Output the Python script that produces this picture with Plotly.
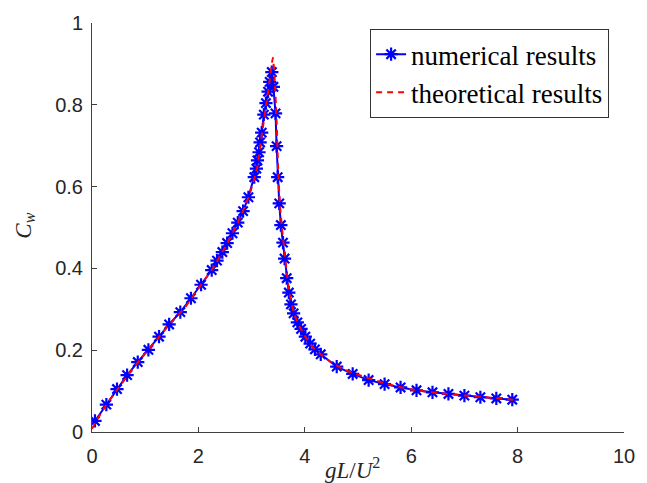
import plotly.graph_objects as go

# Numerical wave-resistance coefficient samples
num_x = [0.056, 0.27, 0.47, 0.66, 0.86, 1.06, 1.26, 1.45, 1.66, 1.86, 2.05, 2.25, 2.35,
         2.45, 2.54, 2.64, 2.74, 2.84, 2.94, 3.05, 3.09, 3.11, 3.14, 3.16, 3.19, 3.23,
         3.27, 3.31, 3.34, 3.38, 3.41, 3.45, 3.47, 3.49, 3.52, 3.55, 3.59, 3.62, 3.66,
         3.70, 3.74, 3.79, 3.86, 3.93, 4.01, 4.10, 4.19, 4.30, 4.60, 4.90, 5.20, 5.50,
         5.80, 6.10, 6.40, 6.70, 7.00, 7.30, 7.60, 7.90]
num_y = [0.027, 0.067, 0.105, 0.139, 0.171, 0.201, 0.233, 0.263, 0.293, 0.327, 0.360,
         0.396, 0.419, 0.440, 0.462, 0.486, 0.512, 0.540, 0.574, 0.623, 0.644, 0.664,
         0.684, 0.708, 0.732, 0.776, 0.804, 0.832, 0.856, 0.880, 0.844, 0.779, 0.699,
         0.623, 0.559, 0.506, 0.463, 0.424, 0.376, 0.341, 0.312, 0.290, 0.268, 0.252,
         0.233, 0.216, 0.202, 0.190, 0.160, 0.142, 0.127, 0.117, 0.109, 0.102, 0.097,
         0.093, 0.089, 0.085, 0.082, 0.079]

# Theoretical curve
theo_x = [0.0, 0.25, 0.5, 0.75, 1.0, 1.25, 1.5, 1.75, 2.0, 2.25, 2.5, 2.75, 2.95, 3.1,
          3.2, 3.28, 3.34, 3.38, 3.40, 3.43, 3.47, 3.50, 3.53, 3.57, 3.62, 3.67, 3.72,
          3.80, 3.90, 4.0, 4.15, 4.3, 4.5, 4.75, 5.0, 5.5, 6.0, 6.5, 7.0, 7.5, 8.0]
theo_y = [0.008, 0.063, 0.108, 0.152, 0.192, 0.231, 0.270, 0.305, 0.351, 0.396, 0.451,
          0.515, 0.577, 0.644, 0.735, 0.805, 0.860, 0.900, 0.915, 0.870, 0.760, 0.640,
          0.560, 0.500, 0.440, 0.380, 0.335, 0.290, 0.258, 0.235, 0.207, 0.190, 0.170,
          0.152, 0.140, 0.119, 0.104, 0.095, 0.089, 0.084, 0.078]

x_ticks = [0, 2, 4, 6, 8, 10]
y_ticks = [0, 0.2, 0.4, 0.6, 0.8, 1]

axis_color = "#404040"
tick_font = dict(family="Liberation Sans, Arial, sans-serif", size=20, color="#262626")
serif = "Liberation Serif, Times New Roman, serif"

fig = go.Figure()
fig.add_trace(go.Scatter(
    x=num_x, y=num_y, mode="lines+markers", name="numerical results",
    line=dict(color="#0000ff", width=2),
    marker=dict(symbol="asterisk-open", size=11, color="#0000ff",
                line=dict(color="#0000ff", width=2.2)),
))
fig.add_trace(go.Scatter(
    x=theo_x, y=theo_y, mode="lines", name="theoretical results",
    line=dict(color="#ff0000", width=2, dash="6px,5px", shape="spline", smoothing=0.6),
))

fig.update_layout(
    width=647, height=483,
    margin=dict(l=92, r=18, t=15, b=51),
    paper_bgcolor="white", plot_bgcolor="white",
    showlegend=True,
    legend=dict(
        x=0.972, y=0.985, xanchor="right", yanchor="top",
        bgcolor="white", bordercolor="#333333", borderwidth=1,
        font=dict(family=serif, size=27, color="black"),
        tracegroupgap=0, itemwidth=30,
    ),
    xaxis=dict(
        range=[0, 10], tickvals=x_ticks, showgrid=False, zeroline=False,
        showline=True, linecolor=axis_color, linewidth=1,
        ticks="inside", ticklen=5, tickcolor=axis_color,
        tickfont=tick_font, ticklabelstandoff=6,
    ),
    yaxis=dict(
        range=[0, 1], tickvals=y_ticks, showgrid=False, zeroline=False,
        showline=True, linecolor=axis_color, linewidth=1,
        ticks="inside", ticklen=5, tickcolor=axis_color,
        tickfont=tick_font, ticklabelstandoff=4,
    ),
    annotations=[
        dict(text="<i>gL</i>/<i>U</i><sup>2</sup>", xref="paper", yref="paper",
             x=(355 - 92) / 537, y=-(469 - 432) / 417, xanchor="center", yanchor="middle",
             showarrow=False, font=dict(family=serif, size=23, color="#262626")),
        dict(text="<i>C<sub>w</sub></i>", xref="paper", yref="paper",
             x=-(92 - 24) / 537, y=(432 - 222) / 417, xanchor="center", yanchor="middle",
             textangle=-90, showarrow=False,
             font=dict(family=serif, size=23, color="#262626")),
    ],
)

fig.write_html("out.html")
